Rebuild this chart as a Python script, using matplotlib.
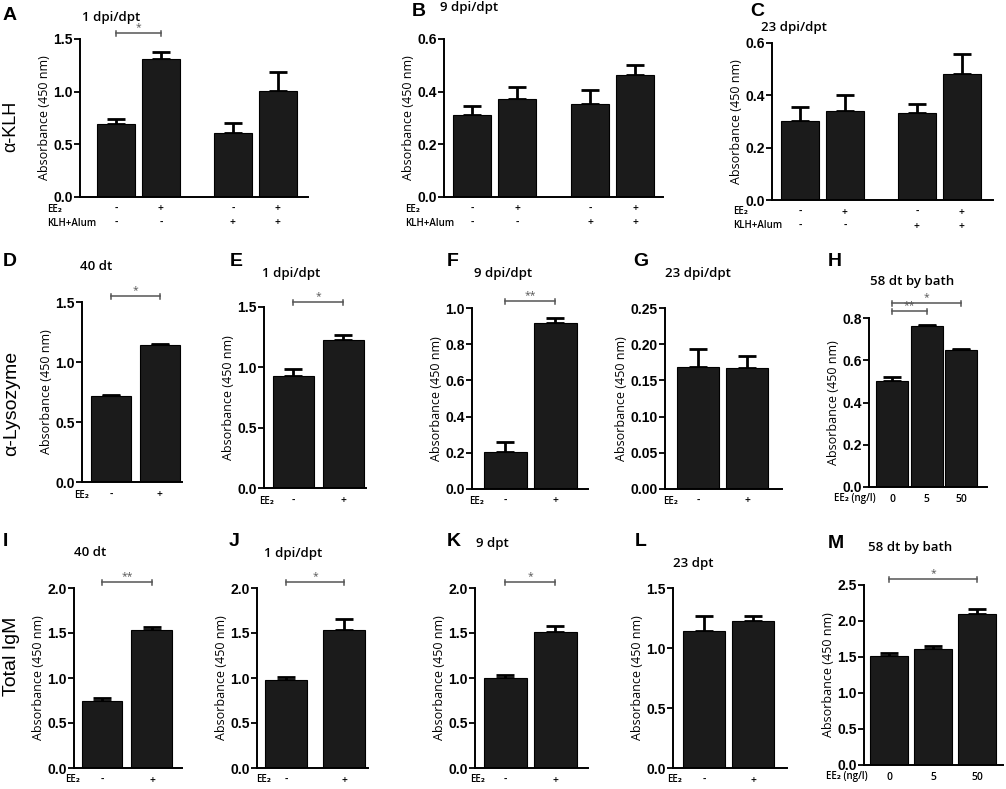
import matplotlib
matplotlib.use('Agg')
import matplotlib.pyplot as plt
from matplotlib.transforms import offset_copy

W, H = 1006, 789

# values (bar heights and upper error bars)
a_vals = [0.69, 1.31, 0.61, 1.01]
a_err = [0.055, 0.065, 0.095, 0.175]
b_vals = [0.31, 0.372, 0.355, 0.463]
b_err = [0.035, 0.045, 0.052, 0.039]
c_vals = [0.303, 0.339, 0.333, 0.483]
c_err = [0.053, 0.064, 0.032, 0.074]
d_vals = [0.714, 1.144]
d_err = [0.008, 0.004]
e_vals = [0.931, 1.229]
e_err = [0.055, 0.036]
f_vals = [0.206, 0.919]
f_err = [0.054, 0.024]
g_vals = [0.168, 0.167]
g_err = [0.026, 0.017]
h_vals = [0.501, 0.761, 0.648]
h_err = [0.021, 0.005, 0.003]
i_vals = [0.741, 1.537]
i_err = [0.037, 0.033]
j_vals = [0.981, 1.537]
j_err = [0.030, 0.119]
k_vals = [1.0, 1.507]
k_err = [0.030, 0.074]
l_vals = [1.144, 1.222]
l_err = [0.125, 0.042]
m_vals = [1.514, 1.611, 2.093]
m_err = [0.046, 0.046, 0.074]

# group labels under the bars
ee2_4 = ['-', '+', '-', '+']
klh_4 = ['-', '-', '+', '+']
ee2_2 = ['-', '+']
dose_3 = ['0', '5', '50']

# y ticks
t15 = ([0.0, 0.5, 1.0, 1.5], ['0.0', '0.5', '1.0', '1.5'])
t06 = ([0.0, 0.2, 0.4, 0.6], ['0.0', '0.2', '0.4', '0.6'])
t10 = ([0.0, 0.2, 0.4, 0.6, 0.8, 1.0], ['0.0', '0.2', '0.4', '0.6', '0.8', '1.0'])
t025 = ([0.0, 0.05, 0.10, 0.15, 0.20, 0.25], ['0.00', '0.05', '0.10', '0.15', '0.20', '0.25'])
t08 = ([0.0, 0.2, 0.4, 0.6, 0.8], ['0.0', '0.2', '0.4', '0.6', '0.8'])
t20 = ([0.0, 0.5, 1.0, 1.5, 2.0], ['0.0', '0.5', '1.0', '1.5', '2.0'])
t25 = ([0.0, 0.5, 1.0, 1.5, 2.0, 2.5], ['0.0', '0.5', '1.0', '1.5', '2.0', '2.5'])

EE = 'EE\u2082'

# layout: box = (left, top, right, bottom) in pixels
panels = [
    dict(letter='A', vals=a_vals, err=a_err, box=(80, 39, 308, 197), pos=[0, 1, 2.6, 3.6],
         xlim=(-0.8, 4.27), width=0.84, ticks=t15,
         rows=[(EE, ee2_4, 12), ('KLH+Alum', klh_4, 26)], row_x=47,
         title='1 dpi/dpt', title_xy=(111, 17), letter_xy=(3, 16), brackets=[(0, 1, 33, '*')]),
    dict(letter='B', vals=b_vals, err=b_err, box=(444, 39, 663, 197), pos=[0, 1, 2.62, 3.62],
         xlim=(-0.62, 4.24), width=0.84, ticks=t06,
         rows=[(EE, ee2_4, 12), ('KLH+Alum', klh_4, 26)], row_x=405,
         title='9 dpi/dpt', title_xy=(469, 8), letter_xy=(412, 12), brackets=[]),
    dict(letter='C', vals=c_vals, err=c_err, box=(772, 43, 993, 200), pos=[0, 1, 2.6, 3.6],
         xlim=(-0.62, 4.29), width=0.84, ticks=t06,
         rows=[(EE, ee2_4, 12), ('KLH+Alum', klh_4, 26)], row_x=733,
         title='23 dpi/dpt', title_xy=(794, 27), letter_xy=(750, 11), brackets=[]),
    dict(letter='D', vals=d_vals, err=d_err, box=(82, 302, 182, 482), pos=[0, 1],
         xlim=(-0.59, 1.45), width=0.82, ticks=t15,
         rows=[(EE, ee2_2, 13)], row_x=74,
         title='40 dt', title_xy=(96, 267), letter_xy=(3, 261), brackets=[(0, 1, 296, '*')]),
    dict(letter='E', vals=e_vals, err=e_err, box=(264, 307, 366, 488), pos=[0, 1],
         xlim=(-0.58, 1.46), width=0.82, ticks=t15,
         rows=[(EE, ee2_2, 13)], row_x=259,
         title='1 dpi/dpt', title_xy=(291, 273), letter_xy=(230, 261), brackets=[(0, 1, 302, '*')]),
    dict(letter='F', vals=f_vals, err=f_err, box=(472, 308, 588, 489), pos=[0, 1],
         xlim=(-0.66, 1.66), width=0.86, ticks=t10,
         rows=[(EE, ee2_2, 12)], row_x=469,
         title='9 dpi/dpt', title_xy=(503, 274), letter_xy=(447, 261), brackets=[(0, 1, 301, '**')]),
    dict(letter='G', vals=g_vals, err=g_err, box=(665, 308, 782, 489), pos=[0, 1],
         xlim=(-0.67, 1.71), width=0.86, ticks=t025,
         rows=[(EE, ee2_2, 12)], row_x=663,
         title='23 dpi/dpt', title_xy=(698, 273), letter_xy=(633, 261), brackets=[]),
    dict(letter='H', vals=h_vals, err=h_err, box=(869, 318, 987, 487), pos=[0, 1, 2],
         xlim=(-0.67, 2.75), width=0.93, ticks=t08,
         rows=[(EE + ' (ng/l)', dose_3, 12)], row_x=834,
         title='58 dt by bath', title_xy=(912, 282), letter_xy=(828, 261),
         brackets=[(0, 1, 311, '**'), (0, 2, 303, '*')]),
    dict(letter='I', vals=i_vals, err=i_err, box=(74, 588, 182, 768), pos=[0, 1],
         xlim=(-0.56, 1.6), width=0.82, ticks=t20,
         rows=[(EE, ee2_2, 12)], row_x=65,
         title='40 dt', title_xy=(90, 552), letter_xy=(3, 541), brackets=[(0, 1, 582, '**')]),
    dict(letter='J', vals=j_vals, err=j_err, box=(257, 588, 368, 768), pos=[0, 1],
         xlim=(-0.5, 1.41), width=0.72, ticks=t20,
         rows=[(EE, ee2_2, 12)], row_x=256,
         title='1 dpi/dpt', title_xy=(293, 553), letter_xy=(229, 541), brackets=[(0, 1, 582, '*')]),
    dict(letter='K', vals=k_vals, err=k_err, box=(475, 588, 588, 768), pos=[0, 1],
         xlim=(-0.6, 1.66), width=0.86, ticks=t20,
         rows=[(EE, ee2_2, 12)], row_x=470,
         title='9 dpt', title_xy=(492, 544), letter_xy=(447, 541), brackets=[(0, 1, 582, '*')]),
    dict(letter='L', vals=l_vals, err=l_err, box=(673, 588, 787, 768), pos=[0, 1],
         xlim=(-0.63, 1.69), width=0.86, ticks=t15,
         rows=[(EE, ee2_2, 12)], row_x=667,
         title='23 dpt', title_xy=(693, 563), letter_xy=(635, 541), brackets=[]),
    dict(letter='M', vals=m_vals, err=m_err, box=(864, 585, 1003, 765), pos=[0, 1, 2],
         xlim=(-0.57, 2.59), width=0.86, ticks=t25,
         rows=[(EE + ' (ng/l)', dose_3, 12)], row_x=826,
         title='58 dt by bath', title_xy=(910, 547), letter_xy=(828, 544),
         brackets=[(0, 2, 579, '*')]),
]

txt_font = ['Open Sans', 'DejaVu Sans']
num_font = ['Liberation Sans', 'DejaVu Sans']

fig = plt.figure(figsize=(W / 100, H / 100), dpi=100)

for p in panels:
    x0, top, x1, bot = p['box']
    ax = fig.add_axes([x0 / W, 1 - bot / H, (x1 - x0) / W, (bot - top) / H])
    n = len(p['vals'])
    ax.errorbar(p['pos'], p['vals'], yerr=[[0] * n, p['err']], fmt='none', ecolor='black',
                elinewidth=2, capsize=6.5, capthick=2, zorder=1)
    ax.bar(p['pos'], p['vals'], p['width'], color='#1b1b1b', edgecolor='black', linewidth=0.8, zorder=2)
    ax.set_xlim(*p['xlim'])
    ax.set_ylim(0, p['ticks'][0][-1])
    ax.set_xticks([])
    ax.set_yticks(p['ticks'][0])
    ax.set_yticklabels(p['ticks'][1], family=num_font, fontweight='bold', fontsize=10)
    ax.tick_params(axis='y', direction='out', length=4, width=1.3, pad=1)
    for s in ['top', 'right']:
        ax.spines[s].set_visible(False)
    for s in ['left', 'bottom']:
        ax.spines[s].set_linewidth(1.4)
    ax.set_ylabel('Absorbance (450 nm)', family=txt_font, fontsize=9, labelpad=2)

    # rows of -/+ under the bars
    for label, marks, dy in p['rows']:
        tr = offset_copy(ax.get_xaxis_transform(), fig=fig, x=0, y=-dy, units='dots')
        for xp, m in zip(p['pos'], marks):
            ax.text(xp, 0, m, transform=tr, ha='center', va='center', family=txt_font,
                    fontsize=7.5, fontweight='semibold')
        fig.text(p['row_x'] / W, 1 - (bot + dy) / H, label, ha='left', va='center',
                 family=txt_font, fontsize=7, fontweight='semibold')

    # significance brackets
    hpx = bot - top
    for b0, b1, ypx, star in p['brackets']:
        yf = (bot - ypx) / hpx
        d = 2.5 / hpx
        p0, p1 = p['pos'][b0], p['pos'][b1]
        tr = ax.get_xaxis_transform()
        ax.plot([p0, p1], [yf, yf], color='#555555', lw=1.1, transform=tr, clip_on=False)
        for xe in (p0, p1):
            ax.plot([xe, xe], [yf - d, yf + d], color='#555555', lw=1.1, transform=tr, clip_on=False)
        ax.text((p0 + p1) / 2, yf - 0.5 / hpx, star, transform=tr, ha='center', va='bottom',
                fontsize=7.5, color='#555555', family=txt_font)

    tx, ty = p['title_xy']
    fig.text(tx / W, 1 - ty / H, p['title'], ha='center', va='center', family=txt_font,
             fontsize=9.5, fontweight='semibold')
    lx, ly = p['letter_xy']
    fig.text(lx / W, 1 - ly / H, p['letter'], ha='left', va='center', family=num_font,
             fontsize=14, fontweight='bold')

# row titles on the left
fig.text(11 / W, 1 - 126 / H, '\u03b1-KLH', rotation=90, ha='center', va='center',
         family=num_font, fontsize=13)
fig.text(12 / W, 1 - 403 / H, '\u03b1-Lysozyme', rotation=90, ha='center', va='center',
         family=num_font, fontsize=14)
fig.text(11 / W, 1 - 656 / H, 'Total IgM', rotation=90, ha='center', va='center',
         family=num_font, fontsize=14)

fig.savefig('out.png', dpi=100, facecolor='white')
